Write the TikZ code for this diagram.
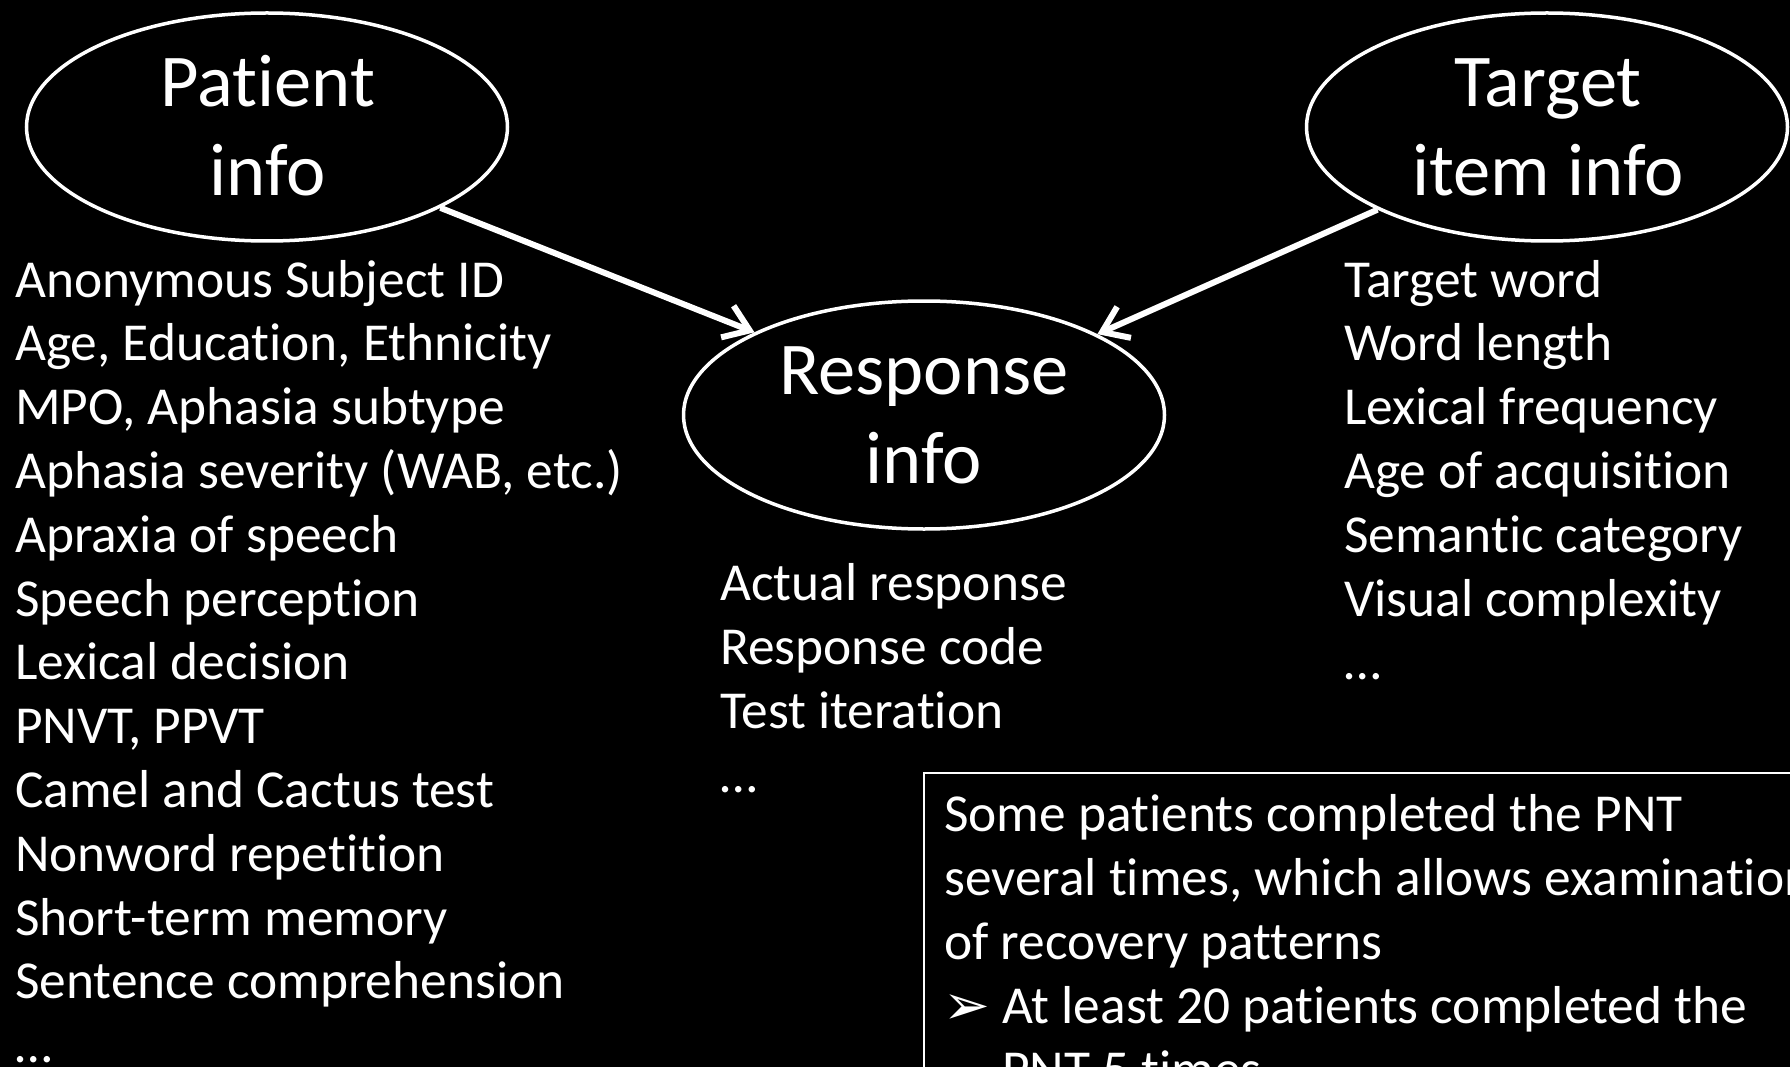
\documentclass[tikz,border=0pt]{standalone}
\usepackage{fontspec}
\setmainfont{Carlito}[Ligatures=NoCommon, RawFeature={-liga;-clig;-calt;-dlig}]
\newfontfamily\dejavu{DejaVu Sans}
\usetikzlibrary{arrows.meta,shapes.geometric}
\begin{document}
\begin{tikzpicture}[x=1pt,y=-1pt,
  ell/.style={draw=white, line width=3.5pt, ellipse, minimum width=481pt, minimum height=228pt, inner sep=0pt},
  headtxt/.style={text=white, font=\fontsize{74.5}{88}\selectfont, anchor=base, inner sep=0pt},
  item/.style={text=white, font=\fontsize{53.4}{64}\selectfont, anchor=base west, inner sep=0pt},
  arr/.style={draw=white, line width=6pt, -{Straight Barb[length=24pt,width=34pt]}},
  infobox/.style={draw=white, line width=2pt},
]
\useasboundingbox (0,0) rectangle (1790,1067);
\clip (0,0) rectangle (1790,1067);
\fill[black] (-10,-10) rectangle (1800,1080);

% ellipses
\node[ell] (pat) at (267,127) {};
\node[ell] (resp) at (924,415) {};
\node[ell] (targ) at (1547,127) {};

\node[headtxt] (patA) at (268,107) {Patient};
\node[headtxt] (patB) at (268,196) {info};
\node[headtxt] (respA) at (924,394) {Response};
\node[headtxt] (respB) at (924,483) {info};
\node[headtxt] (targA) at (1548,107) {Target};
\node[headtxt] (targB) at (1548,196) {item info};

% arrows
\draw[arr] (pat.-25.7) -- (resp.154.6);
\draw[arr] (targ.-154.3) -- (resp.25.2);

% left list
\foreach \t [count=\i from 0] in {Anonymous Subject ID, {Age, Education, Ethnicity}, {MPO, Aphasia subtype}, {Aphasia severity (WAB, etc.)}, Apraxia of speech, Speech perception, Lexical decision, {PNVT, PPVT}, Camel and Cactus test, Nonword repetition, Short-term memory, Sentence comprehension, \dots}
  \node[item] (pl\i) at (15, 297+63.8*\i) {\t};

% middle list
\foreach \t [count=\i from 0] in {Actual response, Response code, Test iteration, \dots}
  \node[item] (ml\i) at (720, 600+64*\i) {\t};

% right list
\foreach \t [count=\i from 0] in {Target word, Word length, Lexical frequency, Age of acquisition, Semantic category, Visual complexity, \dots}
  \node[item] (rl\i) at (1344, 297+63.8*\i) {\t};

% box
\coordinate (boxA) at (924,773);
\coordinate (boxB) at (1820,1120);
\draw[infobox] (boxA) rectangle (boxB);
\node[item] (b1) at (944,831) {Some patients completed the PNT};
\node[item] (b2) at (944,895) {several times, which allows examination};
\node[item] (b3) at (944,959) {of recovery patterns};
\node[item, font=\dejavu\fontsize{56}{64}\selectfont] (b4a) at (943,1024) {➢};
\node[item] (b4) at (1002,1023) {At least 20 patients completed the};
\node[item] (b5) at (1002,1087) {PNT 5 times};
\end{tikzpicture}
\end{document}
